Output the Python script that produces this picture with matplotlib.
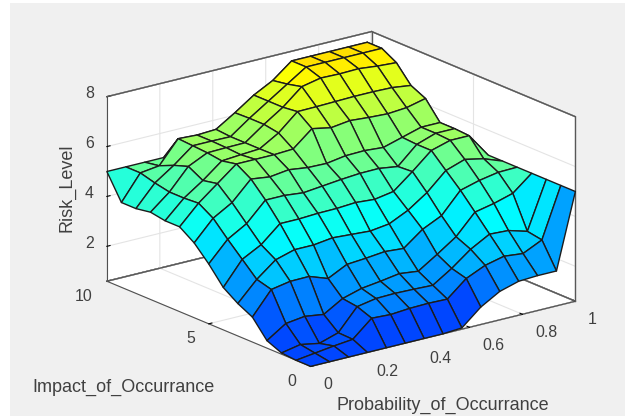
import numpy as np
import matplotlib
matplotlib.use('Agg')
import matplotlib.pyplot as plt
from matplotlib.colors import LinearSegmentedColormap, Normalize
from matplotlib.patches import Rectangle
from mpl_toolkits.mplot3d import proj3d

plt.rcParams['font.family'] = ['Liberation Sans', 'DejaVu Sans']

probability = [0, 1/14, 2/14, 3/14, 4/14, 5/14, 6/14, 7/14, 8/14, 9/14, 10/14, 11/14, 12/14, 13/14, 1]
impact = [0, 10/14, 20/14, 30/14, 40/14, 50/14, 60/14, 70/14, 80/14, 90/14, 100/14, 110/14, 120/14, 130/14, 10]

# risk level, one row per impact value (impact 0 first)
risk_rows = [
    [.6, .6, .6, .6, .6, .6, .6, .6, .65, 1.3, 1.74, 1.96, 2, 2, 5],
    [.6, .7, .8, .88, 1.54, 1.5, 1.56, 1.58, 1.56, 2.2, 2.54, 2.72, 2.64, 3, 5],
    [.65, .8, .66, .9, 1.76, 1.9, 1.92, 1.9, 1.87, 2.36, 2.94, 3.36, 3.32, 3.1, 5],
    [.9, 1.4, 1.5, 1.39, 1.84, 2.06, 2.16, 2.28, 2.19, 2.68, 3.2, 4, 4.16, 4.38, 5],
    [1.6, 2.52, 2.66, 2.67, 2.4, 2.78, 2.84, 2.92, 2.86, 3.44, 3.8, 4.63, 4.84, 4.98, 5],
    [1.9, 2.68, 3.28, 3.5, 3.5, 3.6, 3.55, 3.5, 3.6, 3.96, 4.48, 5.18, 5.44, 5.28, 5],
    [2.3, 3.24, 3.64, 4.3, 4.3, 4.34, 4.35, 4.4, 4.34, 4.47, 5.08, 5.74, 5.96, 5.96, 5],
    [3, 3.8, 4.24, 5, 5, 4.92, 5, 5.08, 5.14, 5.15, 5.04, 5.74, 6, 6, 5],
    [3.6, 4.4, 4.84, 5.6, 5.5, 5.6, 5.5, 5.48, 5.6, 5.62, 5.56, 5.78, 6, 6, 5],
    [4, 4.76, 5.36, 5.96, 5.96, 5.96, 6, 6.63, 6.48, 6.58, 6.52, 6.48, 6.54, 6.72, 5],
    [4, 4.72, 5.24, 5.84, 5.9, 5.95, 6.4, 7.07, 7.08, 7.1, 7.12, 7.12, 7.1, 7, 5],
    [4.1, 4.72, 5.56, 5.92, 5.94, 5.95, 6.5, 7, 7.64, 7.8, 7.78, 7.8, 7.72, 7.67, 5],
    [4, 4.84, 5.36, 5.96, 5.96, 5.95, 6.5, 7, 7.5, 8, 8, 8, 8, 8, 5],
    [4, 5, 5.1, 6, 5.96, 6, 6.48, 7, 7.4, 8, 8, 8, 8, 8, 5],
    [5, 5, 5, 5, 5, 5, 5, 5, 5, 5, 5, 5, 5, 5, 5],
]

x_ticks = [0, 0.2, 0.4, 0.6, 0.8, 1]
x_labels = ['0', '0.2', '0.4', '0.6', '0.8', '1']
y_ticks = [0, 5, 10]
y_labels = ['0', '5', '10']
z_ticks = [2, 4, 6, 8]
z_labels = ['2', '4', '6', '8']

P, I = np.meshgrid(probability, impact)
Z = np.array(risk_rows)

z_lo, z_hi = 0.6, 8
color_nodes = [(0.6, '#0046ff'), (3.4, '#00ffff'), (7.55, '#ffff00'), (8, '#ffe000')]
cmap = LinearSegmentedColormap.from_list(
    'risk', [((z - z_lo) / (z_hi - z_lo), c) for z, c in color_nodes], N=256)
face_colors = cmap(Normalize(z_lo, z_hi)(Z))

fig = plt.figure(figsize=(6.25, 4.16), dpi=100, facecolor='#f0f0f0')
fig.patches.append(Rectangle((0, 0), 10 / 625, 1, transform=fig.transFigure, facecolor='white', edgecolor='none'))
fig.patches.append(Rectangle((0, 1 - 3 / 416), 1, 3 / 416, transform=fig.transFigure, facecolor='white', edgecolor='none'))

ax = fig.add_axes([0.0368, 0.0082, 1, 1], projection='3d', proj_type='ortho', computed_zorder=False)
ax.patch.set_alpha(0)
ax.view_init(elev=18.7, azim=-127.5)
ax.set_box_aspect((334, 335, 195), zoom=1.193)

surf = ax.plot_surface(P, I, Z, rstride=1, cstride=1, facecolors=face_colors, shade=False,
                       edgecolor='#1c1c1c', linewidth=1.0, antialiased=True, zorder=2)
surf.set_clip_on(False)

ax.set_xlim(0, 1, view_margin=0)
ax.set_ylim(0, 10, view_margin=0)
ax.set_zlim(z_lo, z_hi, view_margin=0)
ax.set_xticks(x_ticks, [''] * len(x_ticks))
ax.set_yticks(y_ticks, [''] * len(y_ticks))
ax.set_zticks(z_ticks, [''] * len(z_ticks))

for axis in (ax.xaxis, ax.yaxis, ax.zaxis):
    axis.set_pane_color('white')
    axis.pane.set_edgecolor('#505050')
    axis.line.set_color('#505050')
    axis._axinfo['grid']['color'] = '#e4e4e4'
    axis._axinfo['grid']['linewidth'] = 0.8
    axis._axinfo['tick']['color'] = '#404040'
    axis._axinfo['tick']['inward_factor'] = 0
    axis._axinfo['tick']['outward_factor'] = 0.15

# the grid lines lie on top of the pane edges, so go over the box outline again
box_edges = [([0, 1], [10, 10], [z_hi, z_hi]), ([1, 1], [0, 10], [z_hi, z_hi]),
             ([0, 1], [10, 10], [z_lo, z_lo]), ([1, 1], [0, 10], [z_lo, z_lo]),
             ([1, 1], [10, 10], [z_lo, z_hi]), ([1, 1], [0, 0], [z_lo, z_hi])]
for bx, by, bz in box_edges:
    ax.plot(bx, by, bz, color='#585858', linewidth=1.0, zorder=1, clip_on=False)


# tick labels sit at a fixed pixel offset from the projected tick
def tick_label(text, x, y, z, dx, dy, ha):
    px, py, _ = proj3d.proj_transform(x, y, z, ax.get_proj())
    ax.annotate(text, xy=(px, py), xytext=(dx, dy), textcoords='offset pixels', ha=ha, va='center',
                fontsize=11.4, color='#404040', annotation_clip=False)


for tick, text in zip(x_ticks, x_labels):
    tick_label(text, tick, 0, z_lo, 12.5, -18, 'left')
for tick, text in zip(y_ticks, y_labels):
    tick_label(text, 0, tick, z_lo, -14, -15, 'right')
for tick, text in zip(z_ticks, z_labels):
    tick_label(text, 0, 10, tick, -13, 3, 'right')

fig.text(32 / 625, 1 - 387 / 416, 'Impact_of_Occurrance', fontsize=13, color='#404040', va='center')
fig.text(337 / 625, 1 - 405 / 416, 'Probability_of_Occurrance', fontsize=13, color='#404040', va='center')
fig.text(67 / 625, 1 - 188 / 416, 'Risk_Level', fontsize=13, color='#404040', va='center', ha='center', rotation=90)

fig.savefig('out.png', dpi=100, facecolor=fig.get_facecolor())
